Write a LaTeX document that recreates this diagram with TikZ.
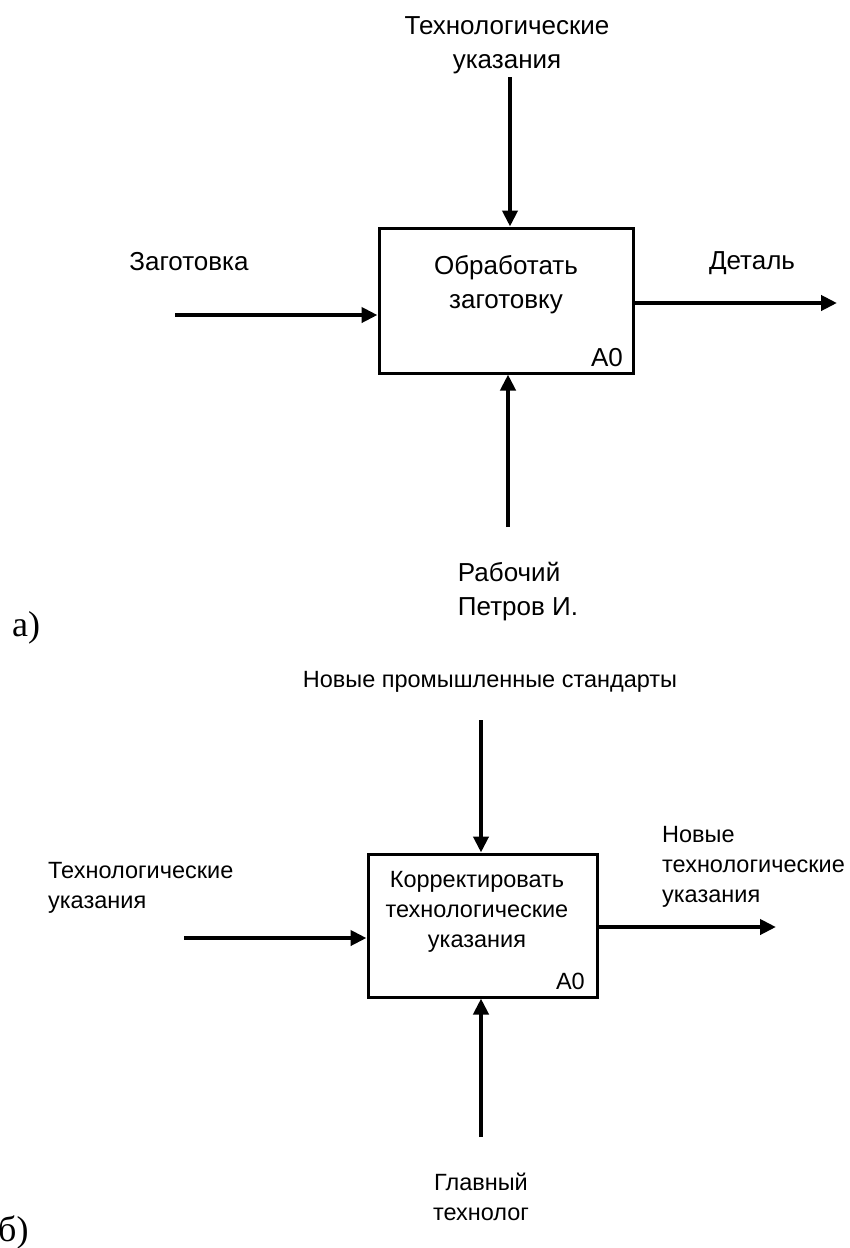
\documentclass[tikz,border=0pt]{standalone}
\usepackage{fontspec}
\setmainfont{Liberation Sans}
\newfontfamily\capfont{Liberation Serif}
\usetikzlibrary{arrows.meta}

\begin{document}
\begin{tikzpicture}[x=1pt, y=-1pt,
    box/.style={draw, line width=3pt, inner sep=0pt},
    arr/.style={-{Triangle[length=16pt,width=15pt]}, line width=4pt},
    lbl/.style={align=center, inner sep=0pt, font=\fontsize{26}{34}\selectfont},
    lblb/.style={align=center, inner sep=0pt, font=\fontsize{23.5}{30}\selectfont},
    figcap/.style={inner sep=0pt, font=\capfont\fontsize{36}{40}\selectfont}
]
\useasboundingbox (0,0) rectangle (849,1248);

% a) process
\node[box, minimum width=254pt, minimum height=145pt] (boxA) at (506,300.5) {};
\node[lbl] (nameA) at (506,285) {Обработать\\заготовку};
\node[lbl, anchor=east] (numA) at (623,358) {A0};
\coordinate (ctlA) at (510,77);
\coordinate (inA) at (175,315);
\coordinate (outA) at (837,303);
\coordinate (mechA) at (508,527);
\draw[arr] (ctlA) -- (ctlA |- boxA.north);
\draw[arr] (inA) -- (inA -| boxA.west);
\draw[arr] (outA -| boxA.east) -- (outA);
\draw[arr] (mechA) -- (mechA |- boxA.south);
\node[lbl] (ctlAtxt) at (507,45) {Технологические\\указания};
\node[lbl] (inAtxt) at (189,262) {Заготовка};
\node[lbl] (outAtxt) at (752,263) {Деталь};
\node[lbl, align=left] (mechAtxt) at (518,592) {Рабочий\\Петров И.};
\node[figcap, anchor=west] (capA) at (12,628) {а)};

% b) process
\node[box, minimum width=229pt, minimum height=143pt] (boxB) at (482.5,925.5) {};
\node[lblb] (nameB) at (477,912) {Корректировать\\технологические\\указания};
\node[lblb, anchor=east] (numB) at (585,981) {A0};
\coordinate (ctlB) at (481,720);
\coordinate (inB) at (184,938);
\coordinate (outB) at (776,927);
\coordinate (mechB) at (481,1137);
\draw[arr] (ctlB) -- (ctlB |- boxB.north);
\draw[arr] (inB) -- (inB -| boxB.west);
\draw[arr] (outB -| boxB.east) -- (outB);
\draw[arr] (mechB) -- (mechB |- boxB.south);
\node[lblb] (ctlBtxt) at (490,682) {Новые промышленные стандарты};
\node[lblb, align=left, anchor=west] (inBtxt) at (48,888) {Технологические\\указания};
\node[lblb, align=left, anchor=west] (outBtxt) at (662,867) {Новые\\технологические\\указания};
\node[lblb] (mechBtxt) at (481,1197) {Главный\\технолог};
\node[figcap, anchor=west] (capB) at (-2,1232) {б)};
\end{tikzpicture}
\end{document}
